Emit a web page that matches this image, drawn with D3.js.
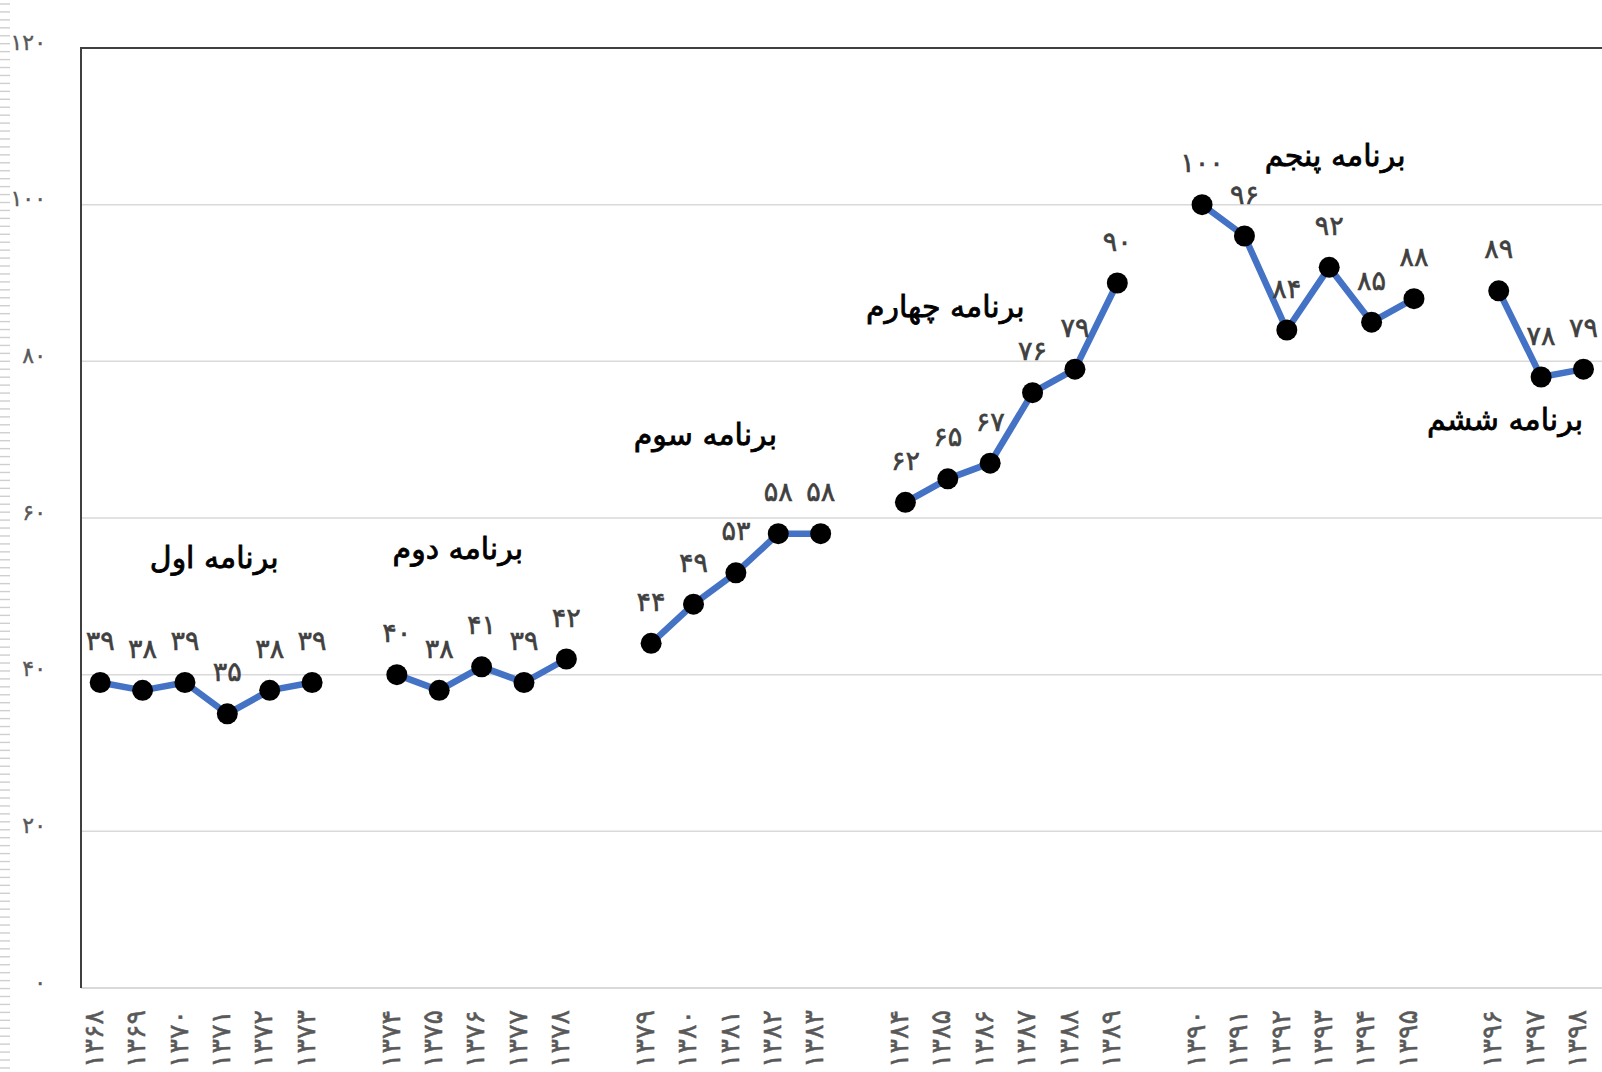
<!DOCTYPE html>
<html><head><meta charset="utf-8">
<script src="https://cdn.jsdelivr.net/npm/d3@7"></script>
<style>html,body{margin:0;padding:0;background:#fff;overflow:hidden} svg{display:block}</style>
</head><body>
<script>
// ---------- data ----------
const programs = ['برنامه اول','برنامه دوم','برنامه سوم','برنامه چهارم','برنامه پنجم','برنامه ششم'];
const programYears = [
  [1368,1369,1370,1371,1372,1373],
  [1374,1375,1376,1377,1378],
  [1379,1380,1381,1382,1383],
  [1384,1385,1386,1387,1388,1389],
  [1390,1391,1392,1393,1394,1395],
  [1396,1397,1398]
];
const programValues = [
  [39,38,39,35,38,39],
  [40,38,41,39,42],
  [44,49,53,58,58],
  [62,65,67,76,79,90],
  [100,96,84,92,85,88],
  [89,78,79]
];
const yTicks = [0,20,40,60,80,100,120];
// program title anchors in data space: [slot index (fractional), value]
const titleSlot  = [2.69, 8.44, 14.28, 19.94, 29.14, 33.15];
const titleValue = [55.0, 56.1, 70.7, 87.0, 106.3, 72.6];

// ---------- helpers ----------
const fa = s => String(s).replace(/\d/g, d => '۰۱۲۳۴۵۶۷۸۹'[+d]);
const W = 1602, H = 1072;
const FONT = "'DejaVu Sans', sans-serif";

// slots: years with an empty slot between programs
const slots = [];
programYears.forEach((ys, i) => {
  ys.forEach(y => slots.push(String(y)));
  if (i < programYears.length - 1) slots.push('gap' + i);
});

const bw = 42.38;
const x = d3.scaleBand().domain(slots).range([79, 79 + bw * slots.length]).padding(0);
const cx = k => x(String(k)) + x.bandwidth() / 2;
const xi = i => x.range()[0] + x.bandwidth() * (i + 0.5);
const y = d3.scaleLinear().domain([0, 120]).range([988, 48]);

const svg = d3.select('body').append('svg').attr('width', W).attr('height', H);

// left-edge dashes (decorative ruler strip)
svg.append('g').selectAll('line').data(d3.range(4, H, 7.94)).join('line')
  .attr('x1', 0).attr('x2', 10).attr('y1', d => d).attr('y2', d => d)
  .attr('stroke', '#cfcfcf').attr('stroke-width', 1.4);

const plotL = 81, plotR = W;

// gridlines
svg.append('g').selectAll('line').data(yTicks.filter(t => t > 0 && t < 120)).join('line')
  .attr('x1', plotL).attr('x2', plotR).attr('y1', d => y(d)).attr('y2', d => y(d))
  .attr('stroke', '#d9d9d9').attr('stroke-width', 1.5);

// bottom axis line
svg.append('line').attr('x1', plotL).attr('x2', plotR).attr('y1', y(0)).attr('y2', y(0))
  .attr('stroke', '#d9d9d9').attr('stroke-width', 2);
// frame top & left
svg.append('line').attr('x1', plotL).attr('x2', plotR).attr('y1', y(120)).attr('y2', y(120))
  .attr('stroke', '#404040').attr('stroke-width', 2);
svg.append('line').attr('x1', plotL).attr('x2', plotL).attr('y1', y(120) - 1).attr('y2', y(0))
  .attr('stroke', '#404040').attr('stroke-width', 2);

// y tick labels
svg.append('g').selectAll('text').data(yTicks).join('text')
  .attr('x', 46).attr('y', d => y(d) - 6)
  .attr('text-anchor', 'end').attr('dominant-baseline', 'central')
  .attr('font-family', FONT).attr('font-size', 22).attr('fill', '#595959')
  .attr('stroke', '#595959').attr('stroke-width', 0.4)
  .text(d => fa(d));

// x tick labels
const allYears = programYears.flat();
svg.append('g').selectAll('text').data(allYears).join('text')
  .attr('transform', d => `translate(${cx(d)},1010) rotate(-90)`)
  .attr('text-anchor', 'end').attr('dy', '0.1em')
  .attr('font-family', FONT).attr('font-size', 27).attr('fill', '#595959')
  .attr('stroke', '#595959').attr('stroke-width', 0.5)
  .text(d => fa(d));

// lines and markers
const line = d3.line().x(d => cx(d.year)).y(d => y(d.v));
programYears.forEach((ys, i) => {
  const pts = ys.map((yr, j) => ({year: yr, v: programValues[i][j]}));
  svg.append('path').datum(pts).attr('d', line)
    .attr('fill', 'none').attr('stroke', '#4472C4').attr('stroke-width', 6.5)
    .attr('stroke-linejoin', 'round');
  svg.append('g').selectAll('circle').data(pts).join('circle')
    .attr('cx', d => cx(d.year)).attr('cy', d => y(d.v)).attr('r', 10.5)
    .attr('fill', '#000');
  svg.append('g').selectAll('text').data(pts).join('text')
    .attr('x', d => cx(d.year)).attr('y', d => y(d.v) - 42)
    .attr('text-anchor', 'middle').attr('dominant-baseline', 'central')
    .attr('font-family', FONT).attr('font-size', 27).attr('fill', '#404040')
    .attr('stroke', '#404040').attr('stroke-width', 0.6)
    .text(d => fa(d.v));
});

// program titles
svg.append('g').selectAll('text').data(programs).join('text')
  .attr('x', (d, i) => xi(titleSlot[i])).attr('y', (d, i) => y(titleValue[i]))
  .attr('text-anchor', 'middle').attr('dominant-baseline', 'central')
  .attr('direction', 'rtl')
  .attr('font-family', FONT).attr('font-size', 30).attr('fill', '#000')
  .attr('stroke', '#000').attr('stroke-width', 0.8)
  .text(d => d);
</script>
</body></html>
